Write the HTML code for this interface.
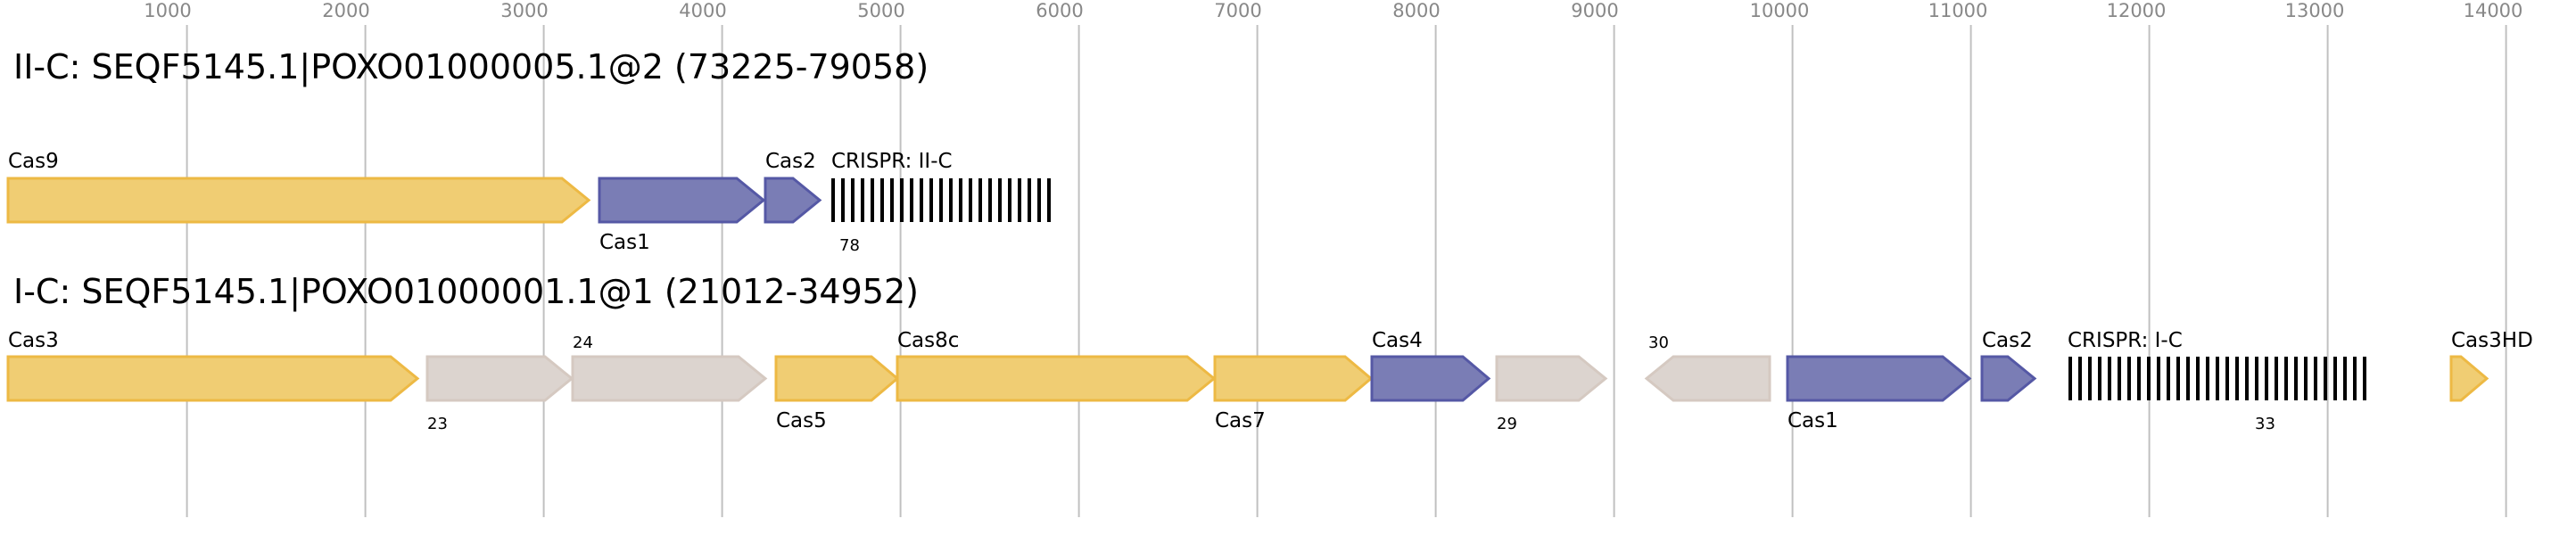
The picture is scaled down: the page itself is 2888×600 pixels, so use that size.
<!DOCTYPE html>
<html><head><meta charset="utf-8"><style>
html,body{margin:0;padding:0;background:#fff;}
svg{display:block;font-family:"DejaVu Sans","Liberation Sans",sans-serif;}
.ax{font-size:21px;fill:#888;text-anchor:middle;}
.t{font-size:38px;fill:#000;}
.l{font-size:23px;fill:#000;}
.s{font-size:18px;fill:#000;}
.y{fill:#f0cd73;stroke:#edb944;stroke-width:3;}
.b{fill:#7a7db5;stroke:#5558a5;stroke-width:3;}
.g{fill:#dcd4cf;stroke:#d5c9c1;stroke-width:3;}
</style></head><body>
<svg width="2888" height="600" viewBox="0 0 2888 600">
<g stroke="#c0c0c0" stroke-width="2">
<line x1="209.6" y1="28" x2="209.6" y2="580"/><line x1="409.6" y1="28" x2="409.6" y2="580"/><line x1="609.6" y1="28" x2="609.6" y2="580"/><line x1="809.6" y1="28" x2="809.6" y2="580"/><line x1="1009.6" y1="28" x2="1009.6" y2="580"/><line x1="1209.6" y1="28" x2="1209.6" y2="580"/><line x1="1409.6" y1="28" x2="1409.6" y2="580"/><line x1="1609.6" y1="28" x2="1609.6" y2="580"/><line x1="1809.6" y1="28" x2="1809.6" y2="580"/><line x1="2009.6" y1="28" x2="2009.6" y2="580"/><line x1="2209.6" y1="28" x2="2209.6" y2="580"/><line x1="2409.6" y1="28" x2="2409.6" y2="580"/><line x1="2609.6" y1="28" x2="2609.6" y2="580"/><line x1="2809.6" y1="28" x2="2809.6" y2="580"/>
</g>
<g class="ax">
<text x="188" y="19">1000</text><text x="388" y="19">2000</text><text x="588" y="19">3000</text><text x="788" y="19">4000</text><text x="988" y="19">5000</text><text x="1188" y="19">6000</text><text x="1388" y="19">7000</text><text x="1588" y="19">8000</text><text x="1788" y="19">9000</text><text x="1995" y="19">10000</text><text x="2195" y="19">11000</text><text x="2395" y="19">12000</text><text x="2595" y="19">13000</text><text x="2795" y="19">14000</text>
</g>
<text class="t" x="15" y="88">II-C: SEQF5145.1|POXO01000005.1@2 (73225-79058)</text>
<polygon class="y" points="9,200 630,200 660,224.5 630,249 9,249"/>
<polygon class="b" points="672,200 826,200 856,224.5 826,249 672,249"/>
<polygon class="b" points="858,200 889,200 919,224.5 889,249 858,249"/>
<text class="l" x="9" y="188">Cas9</text>
<text class="l" x="672" y="279">Cas1</text>
<text class="l" x="858" y="188">Cas2</text>
<text class="l" x="932" y="188">CRISPR: II-C</text>
<text class="s" x="941" y="281">78</text>
<text class="t" x="15" y="340">I-C: SEQF5145.1|POXO01000001.1@1 (21012-34952)</text>
<polygon class="y" points="9,400 438,400 468,424.5 438,449 9,449"/>
<polygon class="g" points="479,400 611,400 641,424.5 611,449 479,449"/>
<polygon class="g" points="642,400 828,400 858,424.5 828,449 642,449"/>
<polygon class="y" points="870,400 977,400 1006,424.5 977,449 870,449"/>
<polygon class="y" points="1006,400 1331,400 1361,424.5 1331,449 1006,449"/>
<polygon class="y" points="1362,400 1508,400 1537,424.5 1508,449 1362,449"/>
<polygon class="b" points="1538,400 1640,400 1669,424.5 1640,449 1538,449"/>
<polygon class="g" points="1678,400 1770,400 1800,424.5 1770,449 1678,449"/>
<polygon class="g" points="1876,400 1984,400 1984,449 1876,449 1846,424.5"/>
<polygon class="b" points="2004,400 2178,400 2208,424.5 2178,449 2004,449"/>
<polygon class="b" points="2222,400 2251,400 2281,424.5 2251,449 2222,449"/>
<polygon class="y" points="2748,400 2759,400 2788,424.5 2759,449 2748,449"/>
<text class="l" x="9" y="389">Cas3</text>
<text class="s" x="479" y="481">23</text>
<text class="s" x="642" y="390">24</text>
<text class="l" x="870" y="479">Cas5</text>
<text class="l" x="1006" y="389">Cas8c</text>
<text class="l" x="1362" y="479">Cas7</text>
<text class="l" x="1538" y="389">Cas4</text>
<text class="s" x="1678" y="481">29</text>
<text class="s" x="1848" y="390">30</text>
<text class="l" x="2004" y="479">Cas1</text>
<text class="l" x="2222" y="389">Cas2</text>
<text class="l" x="2318" y="389">CRISPR: I-C</text>
<text class="s" x="2528" y="481">33</text>
<text class="l" x="2748" y="389">Cas3HD</text>
<g fill="#000">
<rect x="932" y="200" width="4" height="49"/><rect x="943" y="200" width="4" height="49"/><rect x="954" y="200" width="4" height="49"/><rect x="965" y="200" width="4" height="49"/><rect x="976" y="200" width="4" height="49"/><rect x="987" y="200" width="4" height="49"/><rect x="998" y="200" width="4" height="49"/><rect x="1009" y="200" width="4" height="49"/><rect x="1020" y="200" width="4" height="49"/><rect x="1031" y="200" width="4" height="49"/><rect x="1042" y="200" width="4" height="49"/><rect x="1053" y="200" width="4" height="49"/><rect x="1064" y="200" width="4" height="49"/><rect x="1075" y="200" width="4" height="49"/><rect x="1086" y="200" width="4" height="49"/><rect x="1097" y="200" width="4" height="49"/><rect x="1108" y="200" width="4" height="49"/><rect x="1119" y="200" width="4" height="49"/><rect x="1130" y="200" width="4" height="49"/><rect x="1141" y="200" width="4" height="49"/><rect x="1152" y="200" width="4" height="49"/><rect x="1163" y="200" width="4" height="49"/><rect x="1174" y="200" width="4" height="49"/>
</g>
<g fill="#000">
<rect x="2319" y="400" width="4" height="49"/><rect x="2330" y="400" width="4" height="49"/><rect x="2341" y="400" width="4" height="49"/><rect x="2352" y="400" width="4" height="49"/><rect x="2363" y="400" width="4" height="49"/><rect x="2374" y="400" width="4" height="49"/><rect x="2385" y="400" width="4" height="49"/><rect x="2396" y="400" width="4" height="49"/><rect x="2407" y="400" width="4" height="49"/><rect x="2418" y="400" width="4" height="49"/><rect x="2429" y="400" width="4" height="49"/><rect x="2440" y="400" width="4" height="49"/><rect x="2451" y="400" width="4" height="49"/><rect x="2462" y="400" width="4" height="49"/><rect x="2473" y="400" width="4" height="49"/><rect x="2484" y="400" width="4" height="49"/><rect x="2495" y="400" width="4" height="49"/><rect x="2506" y="400" width="4" height="49"/><rect x="2517" y="400" width="4" height="49"/><rect x="2528" y="400" width="4" height="49"/><rect x="2539" y="400" width="4" height="49"/><rect x="2550" y="400" width="4" height="49"/><rect x="2561" y="400" width="4" height="49"/><rect x="2572" y="400" width="4" height="49"/><rect x="2583" y="400" width="4" height="49"/><rect x="2594" y="400" width="4" height="49"/><rect x="2605" y="400" width="4" height="49"/><rect x="2616" y="400" width="4" height="49"/><rect x="2627" y="400" width="4" height="49"/><rect x="2638" y="400" width="4" height="49"/><rect x="2649" y="400" width="4" height="49"/>
</g>
</svg>
</body></html>
